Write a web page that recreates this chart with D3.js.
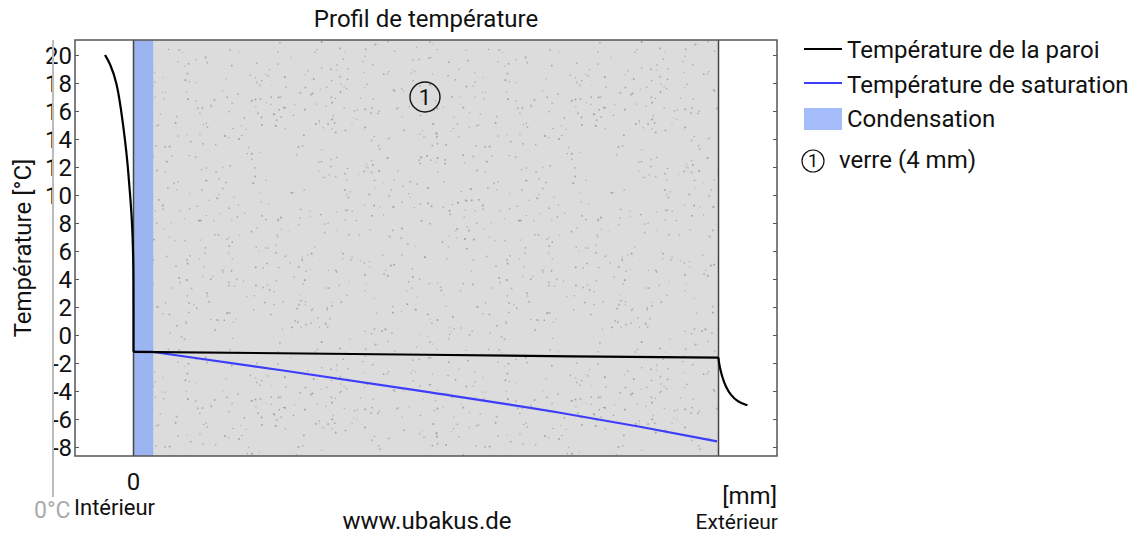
<!DOCTYPE html>
<html>
<head>
<meta charset="utf-8">
<script src="https://cdn.jsdelivr.net/npm/d3@7"></script>
<style>
  body { margin: 0; background: #fff; }
  text { font-family: Roboto, "Open Sans", sans-serif; fill: #111; }
</style>
</head>
<body>
<div id="chart"></div>
<script>
// layers (mm)
var layerNames = ["verre (4 mm)"];
var layerStart = [0];
var layerEnd = [4];

// wall temperature: interior boundary zone, glass, exterior boundary zone (pseudo mm)
var wallInX = [-0.195, -0.16, -0.113, -0.085, -0.058, -0.038, -0.024, -0.010, -0.003, 0, 0];
var wallInT = [20, 19.4, 18, 16.1, 14, 12, 10.1, 8.2, 6, 4.5, -1.2];
var wallX = [0, 1, 2, 3, 4];
var wallT = [-1.2, -1.3, -1.41, -1.52, -1.62];
var wallOutX = [4, 4.002, 4.011, 4.027, 4.05, 4.084, 4.13, 4.198];
var wallOutT = [-1.62, -1.9, -2.4, -3.05, -3.7, -4.3, -4.76, -5.02];

// saturation temperature inside the glass
var satX = [0, 0.135, 1.0, 2.03, 2.916, 3.463, 3.99];
var satT = [-1.2, -1.21, -2.5, -4.1, -5.55, -6.55, -7.6];

// condensation zone (mm)
var condStart = 0, condEnd = 0.135;

var yTicks = [-8, -6, -4, -2, 0, 2, 4, 6, 8, 10, 12, 14, 16, 18, 20];
var xTicks = [0];

var legendNames = ["Température de la paroi", "Température de saturation", "Condensation"];

var width = 1136, height = 534;
var pLeft = 75, pRight = 777, pTop = 40, pBottom = 456;

var svg = d3.select("#chart").append("svg")
    .attr("width", width)
    .attr("height", height);

var x = d3.scaleLinear().domain([-0.4, 4.4]).range([pLeft, pRight]);
var y = d3.scaleLinear().domain([-8.64, 21.07]).range([pBottom, pTop]);

// stipple pattern for the glass (decoration only)
var defs = svg.append("defs");
var tw = 320, th = 300;
var pat = defs.append("pattern")
    .attr("id", "stip")
    .attr("patternUnits", "userSpaceOnUse")
    .attr("width", tw).attr("height", th);
pat.append("rect").attr("width", tw).attr("height", th).attr("fill", "#dcdcdc");
var seed = 12345;
function rnd() { seed = (seed * 16807) % 2147483647; return seed / 2147483647; }
for (var k = 0; k < 650; k++) {
  var s = 1 + rnd() * 0.8;
  pat.append("rect")
      .attr("x", rnd() * tw).attr("y", rnd() * th)
      .attr("width", s).attr("height", s)
      .attr("fill", rnd() < 0.5 ? "#a0a0a0" : "#b4b4b4");
}

// layers
svg.selectAll("rect.layer")
    .data(layerNames)
  .enter().append("rect")
    .attr("class", "layer")
    .attr("x", function(d, i) { return x(layerStart[i]); })
    .attr("y", pTop)
    .attr("width", function(d, i) { return x(layerEnd[i]) - x(layerStart[i]); })
    .attr("height", pBottom - pTop)
    .attr("fill", "url(#stip)");

// condensation
svg.append("rect")
    .attr("x", x(condStart))
    .attr("y", pTop)
    .attr("width", x(condEnd) - x(condStart))
    .attr("height", pBottom - pTop)
    .attr("fill", "#9db4f3");

// layer borders
var borders = layerStart.concat(layerEnd);
svg.selectAll("line.lb")
    .data(borders)
  .enter().append("line")
    .attr("x1", function(d) { return x(d); })
    .attr("x2", function(d) { return x(d); })
    .attr("y1", pTop).attr("y2", pBottom)
    .attr("stroke", "#444").attr("stroke-width", 1.5);

// frame
svg.append("rect")
    .attr("x", pLeft).attr("y", pTop)
    .attr("width", pRight - pLeft).attr("height", pBottom - pTop)
    .attr("fill", "none")
    .attr("stroke", "#555").attr("stroke-width", 1.5);

// y axes (ticks inside on both sides)
var yAxisL = d3.axisRight(y).tickValues(yTicks).tickSize(4).tickFormat("");
var gl = svg.append("g").attr("transform", "translate(" + pLeft + ",0)").call(yAxisL);
gl.select(".domain").remove();
gl.selectAll("line").attr("stroke", "#555");

var yAxisR = d3.axisLeft(y).tickValues(yTicks).tickSize(4).tickFormat("");
var gr = svg.append("g").attr("transform", "translate(" + pRight + ",0)").call(yAxisR);
gr.select(".domain").remove();
gr.selectAll("line").attr("stroke", "#555");

svg.selectAll("text.ytick")
    .data(yTicks)
  .enter().append("text")
    .attr("class", "ytick")
    .attr("x", pLeft - 3)
    .attr("y", function(d) { return y(d); })
    .attr("dy", "0.36em")
    .attr("text-anchor", "end")
    .style("font-size", "24px")
    .text(function(d) { return d; });

// gray reference axis at left
svg.append("line")
    .attr("x1", 53).attr("x2", 53)
    .attr("y1", pTop).attr("y2", 497)
    .attr("stroke", "#bbb").attr("stroke-width", 2);

svg.append("text")
    .attr("x", 34).attr("y", 518)
    .style("font-size", "23px")
    .style("fill", "#aaa")
    .text("0°C");

// x tick labels
svg.selectAll("text.xtick")
    .data(xTicks)
  .enter().append("text")
    .attr("class", "xtick")
    .attr("x", function(d) { return x(d); })
    .attr("y", 490)
    .attr("text-anchor", "middle")
    .style("font-size", "24px")
    .text(function(d) { return d; });

svg.append("text").attr("x", pRight).attr("y", 504)
    .attr("text-anchor", "end").style("font-size", "24px").text("[mm]");
svg.append("text").attr("x", pRight + 1).attr("y", 529)
    .attr("text-anchor", "end").style("font-size", "21px").text("Extérieur");
svg.append("text").attr("x", 74).attr("y", 515)
    .style("font-size", "22px").text("Intérieur");
svg.append("text").attr("x", (pLeft + pRight) / 2 + 1).attr("y", 529)
    .attr("text-anchor", "middle").style("font-size", "24px").text("www.ubakus.de");

// title and axis label
svg.append("text").attr("x", (pLeft + pRight) / 2).attr("y", 27)
    .attr("text-anchor", "middle").style("font-size", "24px").text("Profil de température");
svg.append("text")
    .attr("transform", "translate(31," + (pTop + pBottom) / 2 + ") rotate(-90)")
    .attr("text-anchor", "middle").style("font-size", "24px").text("Température [°C]");

// lines
function pairs(xs, ts) { return xs.map(function(v, i) { return [v, ts[i]]; }); }
function mkLine(curve) {
  return d3.line()
      .x(function(d) { return x(d[0]); })
      .y(function(d) { return y(d[1]); })
      .curve(curve);
}

// saturation: follows the wall inside the condensation zone, then curves down
var sat = pairs(satX, satT);
svg.append("path").datum(sat.slice(0, 2))
    .attr("d", mkLine(d3.curveLinear))
    .attr("fill", "none").attr("stroke", "#3d3dfa").attr("stroke-width", 2.2);
svg.append("path").datum(sat.slice(1))
    .attr("d", mkLine(d3.curveMonotoneX))
    .attr("fill", "none").attr("stroke", "#3d3dfa").attr("stroke-width", 2.2);

svg.append("path").datum(pairs(wallInX, wallInT))
    .attr("d", mkLine(d3.curveBasis))
    .attr("fill", "none").attr("stroke", "#000").attr("stroke-width", 2.2);
svg.append("path").datum(pairs(wallX, wallT))
    .attr("d", mkLine(d3.curveLinear))
    .attr("fill", "none").attr("stroke", "#000").attr("stroke-width", 2.2);
svg.append("path").datum(pairs(wallOutX, wallOutT))
    .attr("d", mkLine(d3.curveBasis))
    .attr("fill", "none").attr("stroke", "#000").attr("stroke-width", 2.2);

// layer number
svg.selectAll("g.lnum")
    .data(layerNames)
  .enter().append("g")
    .attr("class", "lnum")
    .attr("transform", function(d, i) {
      return "translate(" + (x((layerStart[i] + layerEnd[i]) / 2) - 1) + ",97)";
    })
    .each(function(d, i) {
      var g = d3.select(this);
      g.append("circle").attr("r", 15).attr("fill", "none").attr("stroke", "#111").attr("stroke-width", 1.4);
      g.append("text").attr("text-anchor", "middle").attr("dy", "0.36em")
          .style("font-size", "22px").text(i + 1);
    });

// legend
var lg = svg.append("g").attr("transform", "translate(804,0)");
lg.append("line").attr("x1", 0).attr("x2", 38).attr("y1", 49).attr("y2", 49)
    .attr("stroke", "#000").attr("stroke-width", 2);
lg.append("line").attr("x1", 0).attr("x2", 38).attr("y1", 83).attr("y2", 83)
    .attr("stroke", "#3d3dfa").attr("stroke-width", 2);
lg.append("rect").attr("x", 0).attr("y", 108).attr("width", 38).attr("height", 22)
    .attr("fill", "#a4bcfa");
lg.selectAll("text.leg")
    .data(legendNames)
  .enter().append("text")
    .attr("class", "leg")
    .attr("x", 43)
    .attr("y", function(d, i) { return [58, 93, 127][i]; })
    .style("font-size", "24px")
    .text(function(d) { return d; });

layerNames.forEach(function(name, i) {
  var yy = 161 + i * 36;
  lg.append("circle").attr("cx", 9).attr("cy", yy).attr("r", 11)
      .attr("fill", "none").attr("stroke", "#111").attr("stroke-width", 1.2);
  lg.append("text").attr("x", 9).attr("y", yy).attr("dy", "0.36em")
      .attr("text-anchor", "middle").style("font-size", "18px").text(i + 1);
  lg.append("text").attr("x", 35).attr("y", yy + 7)
      .style("font-size", "24px").text(name);
});
</script>
</body>
</html>
